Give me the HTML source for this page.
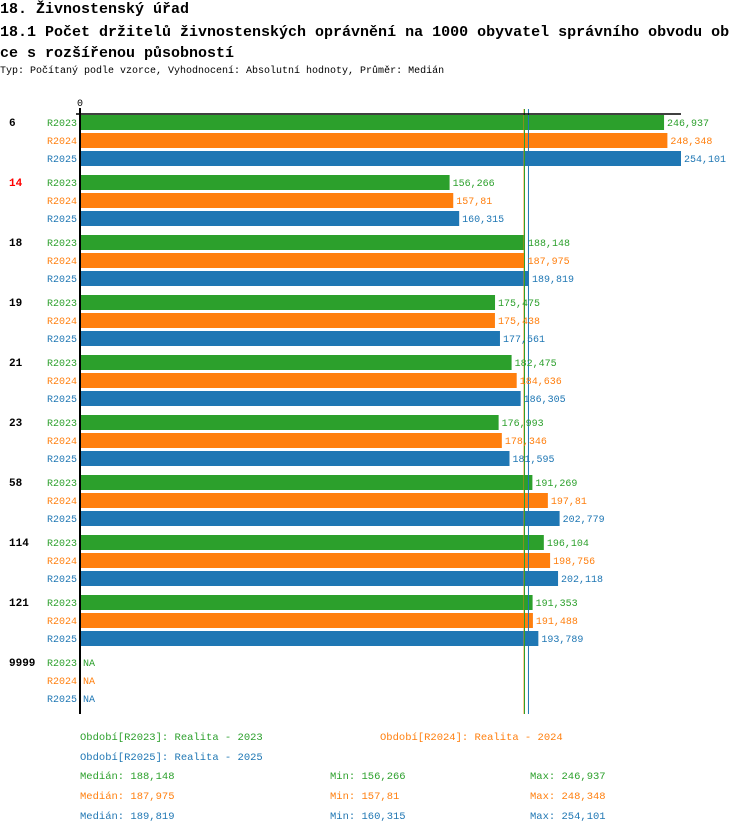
<!DOCTYPE html>
<html><head><meta charset="utf-8"><style>
body{margin:0;background:#fff;font-family:"Liberation Mono","DejaVu Sans Mono",monospace;}
#wrap{position:relative;width:750px;height:834px;overflow:hidden;}
.t{position:absolute;white-space:nowrap;}
</style></head><body>
<div id="wrap">
<div class="t" style="left:0;top:1px;font-size:15px;font-weight:bold">18. Živnostenský úřad</div>
<div class="t" style="left:0;top:22px;font-size:15px;font-weight:bold;line-height:21px">18.1 Počet držitelů živnostenských oprávnění na 1000 obyvatel správního obvodu ob<br>ce s rozšířenou působností</div>
<div class="t" style="left:0;top:66px;font-size:10px">Typ: Počítaný podle vzorce, Vyhodnocení: Absolutní hodnoty, Průměr: Medián</div>
<svg id="svg" width="750" height="834" style="position:absolute;left:0;top:0"></svg>
</div>
<script>
const categories=["6","14","18","19","21","23","58","114","121","9999"];
const highlight=[false,true,false,false,false,false,false,false,false,false];
const seriesNames=["R2023","R2024","R2025"];
const r2023=[246.937,156.266,188.148,175.475,182.475,176.993,191.269,196.104,191.353,null];
const r2024=[248.348,157.81,187.975,175.438,184.636,178.346,197.81,198.756,191.488,null];
const r2025=[254.101,160.315,189.819,177.561,186.305,181.595,202.779,202.118,193.789,null];
const medians=[188.148,187.975,189.819];
const mins=[156.266,157.81,160.315];
const maxs=[246.937,248.348,254.101];
const colors=["#2ca02c","#ff7f0e","#1f77b4"];
const NS="http://www.w3.org/2000/svg";
const svg=document.getElementById('svg');
const x0=80,scale=601/254.101;
const xs=v=>x0+v*scale;
const fmt=v=>String(v).replace('.',',');
const FF='Liberation Mono, monospace';
function mk(tag,attrs,txt){const e=document.createElementNS(NS,tag);for(const k in attrs)e.setAttribute(k,attrs[k]);if(txt!==undefined)e.textContent=txt;svg.appendChild(e);return e;}
const series=[r2023,r2024,r2025];
const labels=[];
categories.forEach((c,i)=>{
  const gy=115+i*60;
  const cl=mk('text',{x:9,y:gy+11,'font-size':11,'font-weight':'bold',fill:highlight[i]?'#ff0000':'#000','font-family':FF},c);
  
  
  series.forEach((s,j)=>{
    const y=gy+j*18;
    const sl=mk('text',{x:77,y:y+11,'font-size':10,fill:colors[j],'text-anchor':'end','font-family':FF},seriesNames[j]);
    
    
    const v=s[i];
    if(v!==null){
      const b=mk('rect',{x:x0,y:y,width:xs(v)-x0,height:15,fill:colors[j]});
      
      
    }
    labels.push([(v===null?x0:xs(v))+3,y+11,j,v===null?'NA':fmt(v)]);
  });
});
[1,0,2].forEach(j=>{
  const m=medians[j];
  const l=mk('line',{x1:xs(m)-0.5,x2:xs(m)-0.5,y1:109,y2:714,stroke:colors[j],'stroke-width':1});
  
  
});
labels.forEach(L=>{
  const vl=mk('text',{x:L[0],y:L[1],'font-size':10,fill:colors[L[2]],'font-family':FF},L[3]);
  
  
});
const ax=mk('line',{x1:x0,x2:x0,y1:108,y2:714,stroke:'#000','stroke-width':2});


const tx=mk('line',{x1:76,x2:xs(maxs[2]),y1:114,y2:114,stroke:'#000','stroke-width':1.5});


const z=mk('text',{x:x0,y:106,'font-size':10,'text-anchor':'middle','font-family':FF},'0');


const leg=[["Období[R2023]: Realita - 2023",80,740,0],["Období[R2024]: Realita - 2024",380,740,1],["Období[R2025]: Realita - 2025",80,760,2]];
leg.forEach(l=>{const e=mk('text',{x:l[1],y:l[2],'font-size':10.5,fill:colors[l[3]],'font-family':FF},l[0]);
  
  });
[0,1,2].forEach(j=>{
  const y=779+j*20;
  const a=mk('text',{x:80,y:y,'font-size':10.5,fill:colors[j],'font-family':FF},'Medián: '+fmt(medians[j]));
  
  
  const b=mk('text',{x:330,y:y,'font-size':10.5,fill:colors[j],'font-family':FF},'Min: '+fmt(mins[j]));
  
  
  const c=mk('text',{x:530,y:y,'font-size':10.5,fill:colors[j],'font-family':FF},'Max: '+fmt(maxs[j]));
  
  
});
</script>
</body></html>
